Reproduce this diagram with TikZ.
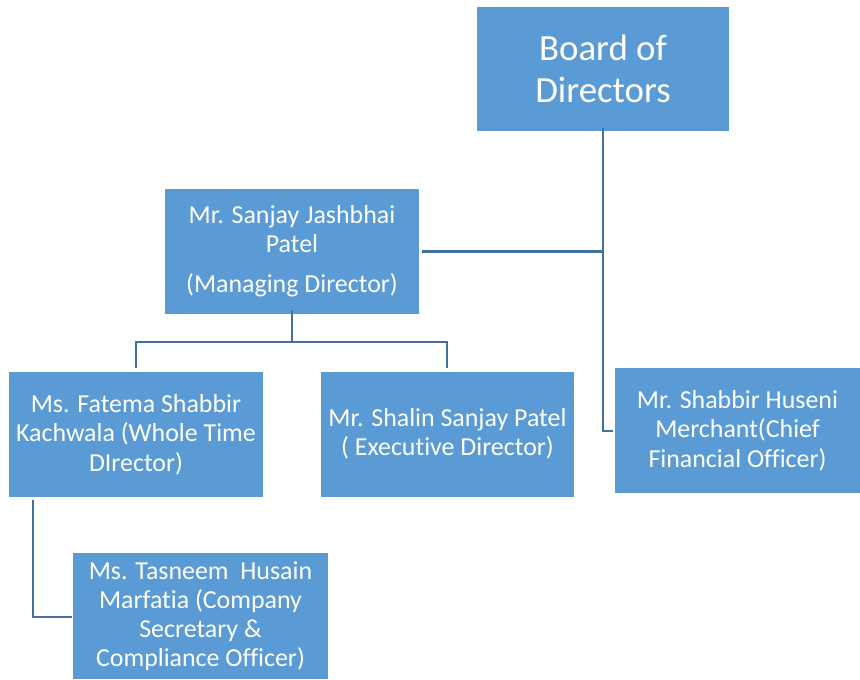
\documentclass[tikz,border=0pt]{standalone}
\usepackage{fontspec}
\setmainfont[Ligatures={NoCommon}]{Carlito}
\definecolor{boxfill}{HTML}{5B9BD5}
\definecolor{linkcol}{HTML}{41719C}
\begin{document}
\begin{tikzpicture}[x=1bp,y=-1bp,
  orgbox/.style={draw=none,fill=boxfill,text=white,align=center,inner sep=0pt,
    font=\fontsize{26}{29.5}\selectfont},
  link/.style={draw=linkcol,line width=2.4bp}]
\useasboundingbox (0,0) rectangle (860,680);
% boxes: centres and sizes of the org chart cards
\node[orgbox,minimum width=252bp,minimum height=124bp,font=\fontsize{37}{42}\selectfont] (board) at (603,69) {Board of\\Directors};
\node[orgbox,minimum width=254bp,minimum height=125bp,font=\fontsize{26}{28.5}\selectfont] (md) at (292,251.5) {Mr. Sanjay Jashbhai\\Patel\\[12bp](Managing Director)};
\node[orgbox,minimum width=254bp,minimum height=125bp] (wtd) at (136,434.5) {Ms. Fatema Shabbir\\Kachwala (Whole Time\\DIrector)};
\node[orgbox,minimum width=253bp,minimum height=125bp] (ed) at (447.5,434) {Mr. Shalin Sanjay Patel\\( Executive Director)};
\node[orgbox,minimum width=245bp,minimum height=125bp] (cfo) at (737.5,430.5) {Mr. Shabbir Huseni\\Merchant(Chief\\Financial Officer)};
\node[orgbox,minimum width=255bp,minimum height=126bp,font=\fontsize{26}{29}\selectfont] (cs) at (200.5,616) {Ms. Tasneem\ \ Husain\\Marfatia (Company\\Secretary \&\\Compliance Officer)};
% connectors
\coordinate (bj) at (603,251.5);
\coordinate (mdj) at (292,342);
\draw[link] ([yshift=3bp]board.south) -- (603,431) -- ([xshift=-2bp]cfo.west |- 0,431);
\draw[link] ([xshift=3bp]md.east) -- (bj);
\draw[link] ([yshift=4bp]md.south) -- (mdj);
\draw[link] (136,368) -- (136,342) -- (447,342) -- (447,368);
\draw[link] (33,500) -- (33,617) -- ([xshift=-1bp]cs.west |- 0,617);
\end{tikzpicture}
\end{document}
